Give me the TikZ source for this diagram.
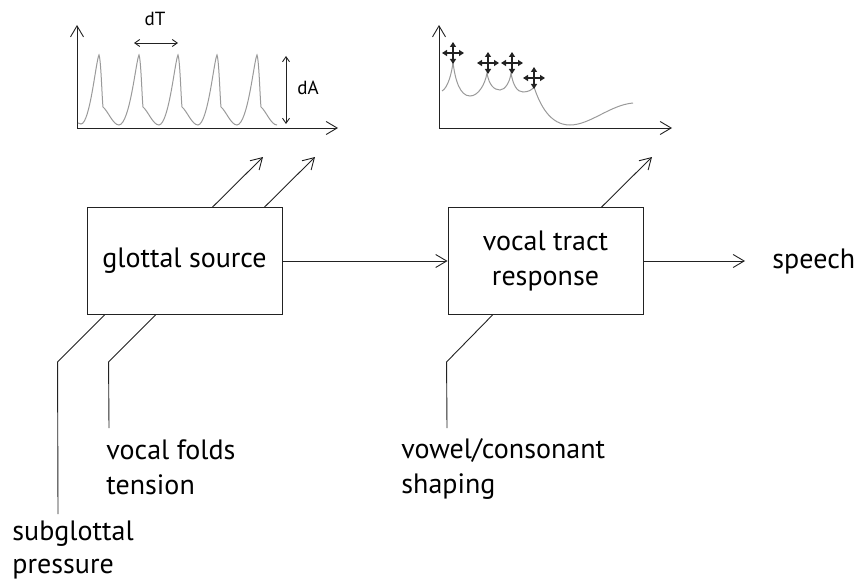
\documentclass[tikz,border=0pt]{standalone}
\usepackage{fontspec}
\setmainfont{PT Sans}
\usetikzlibrary{positioning,arrows.meta}

\definecolor{inkgray}{HTML}{222222}
\definecolor{wavegray}{HTML}{9A9A9A}

\begin{document}
\begin{tikzpicture}[
x=1pt, y=-1pt,
line width=0.9pt, draw=inkgray, text=black,
font=\fontsize{28}{35}\selectfont,
arr/.style={-{Straight Barb[length=11pt,width=13pt]}},
dim/.style={{Straight Barb[length=5pt,width=7pt]}-{Straight Barb[length=5pt,width=7pt]}},
move/.style={{Triangle[length=5pt,width=6pt]}-{Triangle[length=5pt,width=6pt]}, line width=1.3pt},
block/.style={rectangle, draw, minimum width=195pt, minimum height=107pt, align=center},
lbl/.style={inner sep=0pt, align=left, anchor=north west},
small/.style={inner sep=0pt, font=\fontsize{19}{22}\selectfont},
wave/.style={draw=wavegray, line width=1pt}
]

\useasboundingbox (0,0) rectangle (859,583);

\node[block] (glottal) at (184.5,261) {glottal source};
\node[block] (tract) at (545.5,261) {vocal tract\\response};
\node[inner sep=0pt, anchor=base west] (speech) at (772,268) {speech};

\node[lbl, font=\fontsize{28}{33}\selectfont] (pressure) at (12,520) {subglottal\\pressure};
\node[lbl] (folds) at (106,439) {vocal folds\\tension};
\node[lbl] (shaping) at (401,438) {vowel/consonant\\shaping};

\draw[arr] (glottal) -- (tract);
\draw[arr, shorten >=27pt] (tract.east) -- (tract.east -| speech.west);

% outputs towards the two plots
\coordinate (ampl) at (263,157);
\coordinate (period) at (315,157);
\coordinate (formant) at (652,157);
\draw[arr] ([xshift=126pt]glottal.north west) -- (ampl);
\draw[arr] ([xshift=178pt]glottal.north west) -- (period);
\draw[arr] ([xshift=154pt]tract.north west) -- (formant);

% control inputs
\coordinate (pressurein) at (58,514);
\coordinate (foldsin) at (109,428);
\coordinate (shapingin) at (447,428);
\draw ([xshift=18pt]glottal.south west) -- ++(-47,47) -- (pressurein);
\draw ([xshift=69pt]glottal.south west) -- ++(-47,47) -- (foldsin);
\draw ([xshift=45pt]tract.south west) -- ++(-46,47) -- (shapingin);

% glottal pulses
\draw[arr] (77,128) -- (77,25);
\draw[arr] (77,128) -- (338,128);
\draw[wave] (78,123) -- (81,124)
  foreach \p in {99,139,178,217,257} {
    .. controls ({\p-9},124) and ({\p-3},60) .. (\p,55)
    .. controls ({\p+2},60) and ({\p+3},98) .. ({\p+4},107)
    .. controls ({\p+9},111) and ({\p+14},125) .. ({\p+20},125)
  };
\draw[dim] (134,43) -- (178,43);
\node[small, anchor=base] (dT) at (155,26) {dT};
\draw[dim] (286,56) -- (286,124);
\node[small, anchor=base west] (dA) at (297,95) {dA};

% spectral envelope
\draw[arr] (439,128) -- (439,25);
\draw[arr] (439,128) -- (672,128);
\draw[wave] (442,91) .. controls (448,88) and (452,72) .. (453,62)
  .. controls (455,80) and (460,96) .. (470,96)
  .. controls (478,96) and (485,85) .. (487,73)
  .. controls (489,85) and (494,90) .. (500,90)
  .. controls (505,90) and (510,82) .. (511,73)
  .. controls (513,85) and (517,92) .. (523,92)
  .. controls (528,92) and (532,90) .. (534,87)
  .. controls (540,105) and (550,125) .. (570,125)
  .. controls (590,125) and (610,105) .. (633,103);
\foreach \cx/\cy in {453/53, 488/63, 512/63, 534/78} {
  \draw[move] ({\cx-11},\cy) -- ({\cx+11},\cy);
  \draw[move] (\cx,{\cy-11}) -- (\cx,{\cy+11});
}

\end{tikzpicture}
\end{document}
